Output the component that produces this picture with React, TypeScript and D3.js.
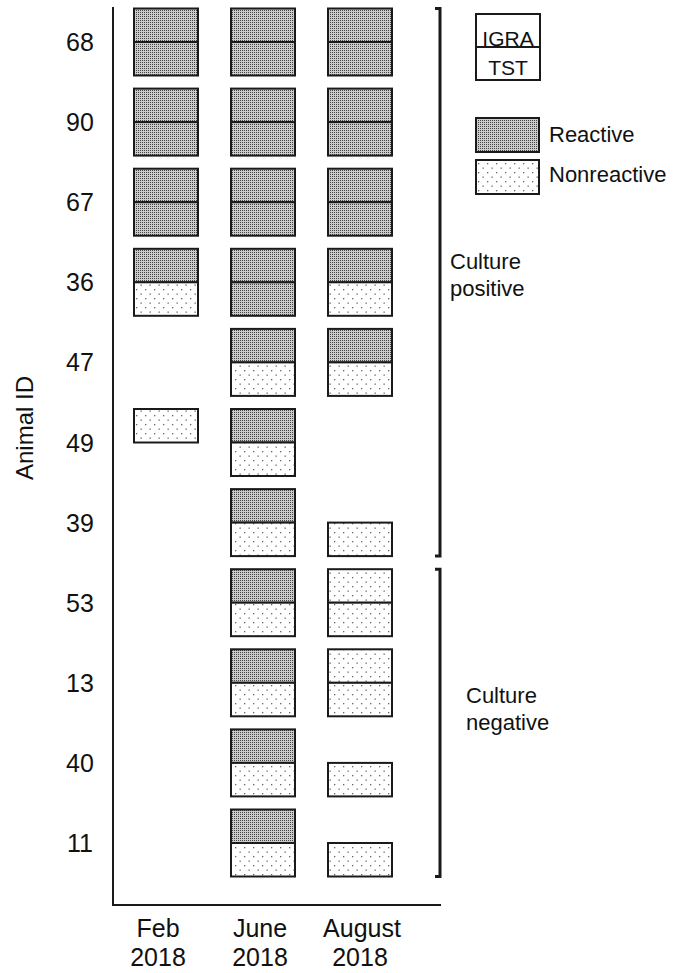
import React from "react";
import * as d3 from "d3";

// animals top to bottom
const animals = ["68", "90", "67", "36", "47", "49", "39", "53", "13", "40", "11"];
const visitMonths = ["Feb", "June", "August"];
const visitYears = ["2018", "2018", "2018"];

// R = reactive, N = nonreactive, null = not tested. columns follow visitMonths
const igraResults = [
  ["R", "R", "R"],
  ["R", "R", "R"],
  ["R", "R", "R"],
  ["R", "R", "R"],
  [null, "R", "R"],
  ["N", "R", null],
  [null, "R", null],
  [null, "R", "N"],
  [null, "R", "N"],
  [null, "R", null],
  [null, "R", null],
];
const tstResults = [
  ["R", "R", "R"],
  ["R", "R", "R"],
  ["R", "R", "R"],
  ["N", "R", "N"],
  [null, "N", "N"],
  [null, "N", null],
  [null, "N", "N"],
  [null, "N", "N"],
  [null, "N", "N"],
  [null, "N", "N"],
  [null, "N", "N"],
];

const groupLabels = [["Culture", "positive"], ["Culture", "negative"]];
const groupFirst = ["68", "53"];
const groupLast = ["39", "11"];

const legendLabels = ["Reactive", "Nonreactive"];
const legendKeys = ["R", "N"];

const W = 675;
const H = 973;
const font = "'Liberation Sans', Arial, sans-serif";
const cellH = 33.5;
const cellW = 64;
const ink = "#1a1a1a";

// label placement tweaks for the bracket texts
const groupLabelX = [450, 466];
const groupLabelY = [269, 703];

export default function App() {
  const y = d3.scalePoint<string>().domain(animals).range([42, 843]);
  const x = d3.scalePoint<string>().domain(visitMonths).range([166, 360]);

  const fillFor = (r: string | null) => (r === "R" ? "url(#reactive)" : "url(#nonreactive)");

  const cells: JSX.Element[] = [];
  animals.forEach((a, i) => {
    visitMonths.forEach((m, j) => {
      const cx = x(m)! - cellW / 2;
      const cy = y(a)!;
      const ig = igraResults[i][j];
      const ts = tstResults[i][j];
      if (ig) {
        cells.push(
          <rect key={`i${a}${m}`} x={cx} y={cy - cellH} width={cellW} height={cellH}
            fill={fillFor(ig)} stroke={ink} strokeWidth={2} />
        );
      }
      if (ts) {
        cells.push(
          <rect key={`t${a}${m}`} x={cx} y={cy} width={cellW} height={cellH}
            fill={fillFor(ts)} stroke={ink} strokeWidth={2} />
        );
      }
    });
  });

  const axisX = 113;
  const axisBottom = 905;
  const bracketX = 440;

  return (
    <div style={{ position: "absolute", left: 0, top: 0 }}>
      <svg width={W} height={H} style={{ display: "block", background: "#fff" }} fontFamily={font}>
        <defs>
          <pattern id="reactive" width={2} height={2} patternUnits="userSpaceOnUse">
            <rect width={2} height={2} fill="#cbcbcb" />
            <rect width={1} height={1} fill="#444" />
          </pattern>
          <pattern id="nonreactive" width={9} height={9} patternUnits="userSpaceOnUse">
            <rect width={9} height={9} fill="#fff" />
            <rect x={1} y={1} width={1.3} height={1.3} fill="#666" />
            <rect x={5.5} y={5.5} width={1.3} height={1.3} fill="#666" />
          </pattern>
        </defs>

        {/* axes */}
        <path d={`M${axisX},7V${axisBottom}H441`} fill="none" stroke={ink} strokeWidth={2} />

        {/* y labels */}
        {animals.map(a => (
          <text key={a} x={80} y={y(a)!} dy="0.36em" textAnchor="middle" fontSize={25} fill="#111">{a}</text>
        ))}
        <text transform={`translate(33,428) rotate(-90)`} textAnchor="middle" fontSize={24} fill="#111">Animal ID</text>

        {/* x labels */}
        {visitMonths.map((m, j) => (
          <g key={m}>
            <text x={x(m)! - (j === 0 ? 8 : j === 1 ? 3 : -2)} y={937} textAnchor="middle" fontSize={25} fill="#111">{m}</text>
            <text x={x(m)! - (j === 0 ? 8 : j === 1 ? 3 : 0)} y={966} textAnchor="middle" fontSize={25} fill="#111">{visitYears[j]}</text>
          </g>
        ))}

        {cells}

        {/* group brackets */}
        {groupLabels.map((lab, k) => {
          const top = y(groupFirst[k])! - cellH;
          const bot = y(groupLast[k])! + cellH;
          return (
            <g key={k}>
              <path d={`M${bracketX - 5},${top}H${bracketX}V${bot}H${bracketX - 5}`} fill="none" stroke={ink} strokeWidth={3} />
              {lab.map((t, li) => (
                <text key={li} x={groupLabelX[k]} y={groupLabelY[k] + li * 27} fontSize={22} fill="#111">{t}</text>
              ))}
            </g>
          );
        })}

        {/* legend */}
        <rect x={476} y={14} width={64} height={33} fill="#fff" stroke={ink} strokeWidth={2} />
        <rect x={476} y={47} width={64} height={33} fill="#fff" stroke={ink} strokeWidth={2} />
        <text x={508} y={46} textAnchor="middle" fontSize={21} fill="#111">IGRA</text>
        <text x={508} y={75} textAnchor="middle" fontSize={21} fill="#111">TST</text>
        {legendKeys.map((k, i) => (
          <g key={k}>
            <rect x={476} y={118 + i * 42} width={63} height={34} fill={fillFor(k)} stroke={ink} strokeWidth={2} />
            <text x={549} y={142 + i * 40} fontSize={22} fill="#111">{legendLabels[i]}</text>
          </g>
        ))}
      </svg>
    </div>
  );
}
